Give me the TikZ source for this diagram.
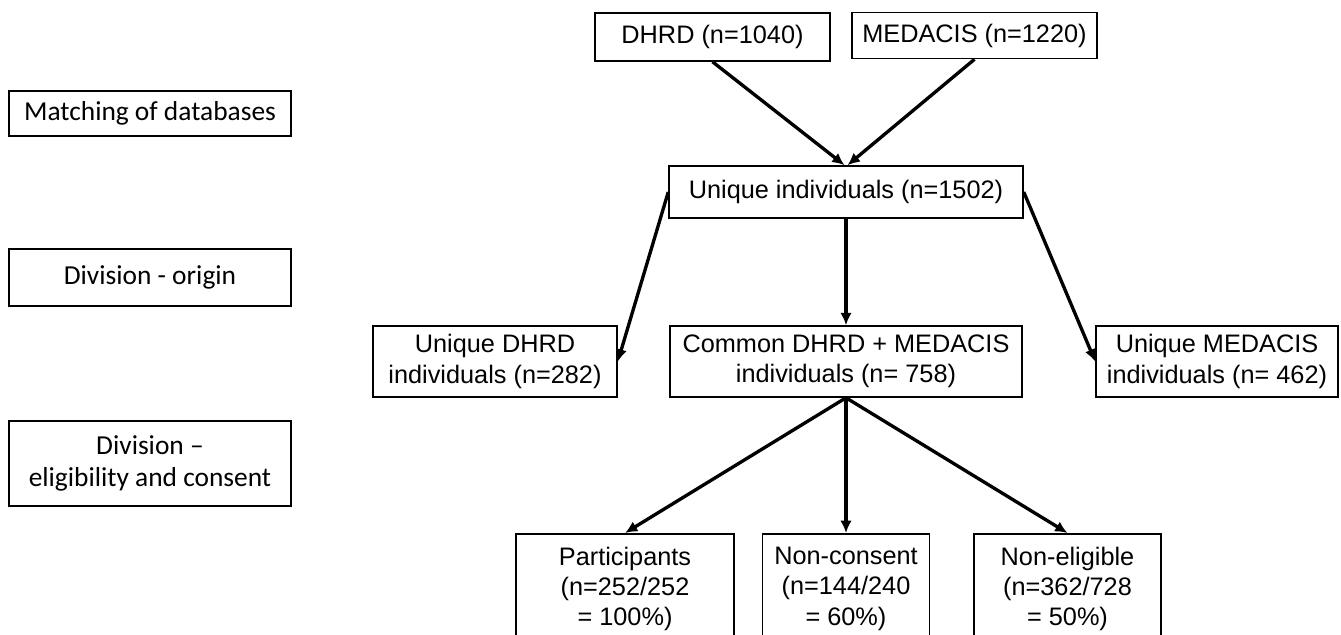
\documentclass[tikz,border=0pt]{standalone}
\usepackage{fontspec}
\setmainfont{Liberation Sans}
\newfontfamily\calfont{Carlito}
\usetikzlibrary{arrows.meta}

\begin{document}
\begin{tikzpicture}
  [x=0.02cm,y=-0.02cm,
   box/.style={draw,line width=0.9pt,inner sep=0pt,align=center,
     font=\fontsize{14.4}{17.2}\selectfont},
   stagebox/.style={box,minimum width=5.64cm,
     font=\calfont\fontsize{15.6}{18.2}\selectfont},
   arr/.style={-{Latex[length=7pt,width=6.5pt]},line width=1.9pt}]
  \clip (0,0) rectangle (1341,635);

  \node[stagebox,minimum height=0.9cm] (match) at (150,113.5) {Matching of databases};
  \node[stagebox,minimum height=1.14cm] (origin) at (150,277.5) {Division - origin};
  \node[stagebox,minimum height=1.7cm] (elig) at (150,463.5) {Division –\\eligibility and consent};

  \node[box,minimum width=4.7cm,minimum height=0.96cm] (dhrd) at (712.5,37) {DHRD (n=1040)};
  \node[box,minimum width=4.9cm,minimum height=0.92cm] (medacis) at (974.5,35.5) {MEDACIS (n=1220)};
  \node[box,minimum width=7.08cm,minimum height=1.04cm] (uniq) at (846,192) {Unique individuals (n=1502)};

  \node[box,minimum width=4.88cm,minimum height=1.42cm] (udhrd) at (495,361.5) {Unique DHRD\\individuals (n=282)};
  \node[box,minimum width=7.04cm,minimum height=1.42cm] (common) at (846,361.5) {Common DHRD + MEDACIS\\individuals (n= 758)};
  \node[box,minimum width=4.84cm,minimum height=1.42cm] (umed) at (1217,361.5) {Unique MEDACIS\\individuals (n= 462)};

  \node[box,anchor=north,minimum width=4.36cm,minimum height=2.2cm] (part) at (625,533) {Participants\\(n=252/252\\= 100\%)};
  \node[box,anchor=north,minimum width=3.34cm,minimum height=2.2cm] (noncons) at (846,533) {Non-consent\\(n=144/240\\= 60\%)};
  \node[box,anchor=north,minimum width=3.74cm,minimum height=2.2cm] (nonelig) at (1067.5,533) {Non-eligible\\(n=362/728\\= 50\%)};

  \draw[arr] (dhrd.south) -- ([xshift=-0.03cm]uniq.north);
  \draw[arr] (medacis.south) -- ([xshift=0.03cm]uniq.north);
  \draw[arr] (uniq.west) -- (udhrd.east);
  \draw[arr] (uniq.south) -- (common.north);
  \draw[arr] (uniq.east) -- (umed.west);
  \draw[arr] (common.south) -- (part.north);
  \draw[arr] (common.south) -- (noncons.north);
  \draw[arr] (common.south) -- (nonelig.north);
\end{tikzpicture}
\end{document}
